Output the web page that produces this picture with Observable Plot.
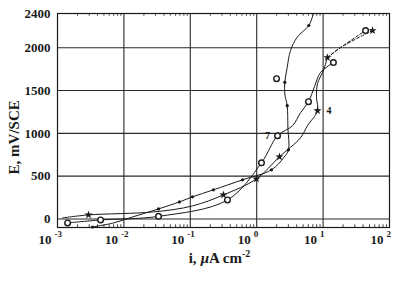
<!DOCTYPE html>
<html>
<head>
<meta charset="utf-8">
<script src="https://cdn.jsdelivr.net/npm/d3@7"></script>
<script src="https://cdn.jsdelivr.net/npm/@observablehq/plot@0.6"></script>
<style>
  html, body { margin: 0; padding: 0; background: #fff; }
  svg { display: block; }
</style>
</head>
<body>
<div id="chart"></div>
<script>
// ---------- data (current density i in µA/cm², potential E in mV/SCE) ----------
const xTicks = [1e-3, 1e-2, 1e-1, 1, 10, 100];
const xExponents = ["-3", "-2", "-1", "0", "1", "2"];
const yTicks = [0, 500, 1000, 1500, 2000, 2400];
const yGrid = [0, 500, 1000, 1500, 2000];
const xGrid = [1e-2, 1e-1, 1, 10];

// curve "7" (open circles)
const curve7 = [
  [1.42e-3, -47], [4.45e-3, -12], [0.0332, 30], [0.363, 222], [1.18, 656],
  [2.06, 972], [3.46, 1089], [4.57, 1241], [6.03, 1370], [7.42, 1546],
  [9.14, 1710], [14.3, 1827]
];
const curve7Markers = [
  [1.42e-3, -47], [4.45e-3, -12], [0.0332, 30], [0.363, 222], [1.18, 656],
  [2.06, 972], [6.03, 1370], [14.3, 1827]
];
// dashed branch ending with a circle
const branchCircle = [[11.6, 1885], [18.3, 2002], [43.6, 2201]];
const branchCircleMarkers = [[43.6, 2201]];
// isolated circle
const loneCircle = [[1.99, 1639]];

// curve "4" (stars)
const curve4 = [
  [1.19e-3, 12], [2.93e-3, 47], [0.0279, 82], [0.108, 152], [0.316, 281],
  [0.993, 468], [2.2, 726], [4.57, 948], [5.82, 1089], [8.24, 1265],
  [7.96, 1417], [8.24, 1581], [10.1, 1733], [11.6, 1885]
];
const curve4Dashed = [[11.6, 1885], [18.3, 2002], [55.5, 2201]];
const curve4Markers = [
  [2.93e-3, 47], [0.316, 281], [0.993, 468], [2.2, 726], [8.24, 1265],
  [11.6, 1885], [55.5, 2201]
];

// steep curve (small dots)
const curveSteep = [
  [3.37e-3, -94], [6.97e-3, -47], [0.0135, 23], [0.0332, 117], [0.0687, 199],
  [0.108, 258], [0.223, 340], [0.611, 457], [1.67, 574], [2.54, 714],
  [3.01, 808], [2.95, 1060], [2.88, 1323], [2.65, 1460], [2.65, 1596],
  [2.88, 1772], [3.23, 1967], [4.07, 2123], [6.09, 2260], [7.16, 2400]
];
const curveSteepMarkers = [
  [3.37e-3, -94], [0.0332, 117], [0.0687, 199], [0.108, 258], [0.223, 340],
  [0.611, 457], [1.67, 574], [3.01, 808], [2.88, 1323], [2.65, 1596], [6.09, 2260]
];

// curve labels
const curveLabels = [
  {i: 1.46, E: 972, text: "7"},
  {i: 12.3, E: 1265, text: "4"}
];

const xLabel = "i, µA cm-2";
const yLabel = "E, mV/SCE";

// ---------- chart ----------
const ink = "#1a1a1a";
const font = "'Liberation Serif', 'Times New Roman', serif";

// minor log ticks along top and bottom edges
const minor = [];
for (let e = -3; e < 2; e++) for (let k = 2; k <= 9; k++) minor.push(k * Math.pow(10, e));

const line = (data, opts = {}) => Plot.line(data, {
  x: d => d[0], y: d => d[1], curve: "catmull-rom",
  stroke: ink, strokeWidth: 1, ...opts
});

const chart = Plot.plot({
  width: 400,
  height: 288,
  marginLeft: 57,
  marginRight: 11,
  marginTop: 13,
  marginBottom: 61,
  style: {fontFamily: font, background: "#fff", color: ink},
  x: {type: "log", domain: [1e-3, 1e2], axis: null},
  y: {domain: [-100, 2400], axis: null},
  marks: [
    Plot.ruleY(yGrid, {stroke: "#2a2a2a", strokeWidth: 1.1}),
    Plot.ruleX(xGrid, {stroke: "#2a2a2a", strokeWidth: 1.1}),
    Plot.ruleX(minor, {y1: -100, y2: -68, stroke: ink, strokeWidth: 0.8}),
    Plot.ruleX(minor, {y1: 2400, y2: 2368, stroke: ink, strokeWidth: 0.8}),
    Plot.frame({stroke: ink, strokeWidth: 1.2}),

    line(curve7),
    line(branchCircle, {strokeDasharray: "3,2"}),
    line(curve4),
    line(curve4Dashed, {strokeDasharray: "3,2"}),
    line(curveSteep),

    Plot.dot(curve7Markers, {x: d => d[0], y: d => d[1], r: 2.8, stroke: ink, strokeWidth: 1.4, fill: "#fff"}),
    Plot.dot(branchCircleMarkers, {x: d => d[0], y: d => d[1], r: 2.8, stroke: ink, strokeWidth: 1.4, fill: "#fff"}),
    Plot.dot(loneCircle, {x: d => d[0], y: d => d[1], r: 2.8, stroke: ink, strokeWidth: 1.4, fill: "#fff"}),
    Plot.dot(curve4Markers, {x: d => d[0], y: d => d[1], symbol: "star", r: 2.6, fill: ink, stroke: "none"}),
    Plot.dot(curveSteepMarkers, {x: d => d[0], y: d => d[1], r: 1.6, fill: ink, stroke: "none"}),

    Plot.text(curveLabels, {x: "i", y: "E", text: "text", fontSize: 10, fontWeight: "bold", fill: ink}),

    // y tick labels
    Plot.text(yTicks, {frameAnchor: "left", y: d => d, text: d => String(d), textAnchor: "end", dx: -7, fontSize: 13, fontWeight: "bold", fill: ink}),
    // x tick labels: 10 with exponent
    Plot.text(xTicks, {frameAnchor: "bottom", x: d => d, text: () => "10", textAnchor: "end", dx: -6, dy: 16, fontSize: 13, fontWeight: "bold", fill: ink}),
    Plot.text(xTicks, {frameAnchor: "bottom", x: d => d, text: (d, i) => xExponents[i], textAnchor: "start", dx: -3, dy: 9, fontSize: 9, fontWeight: "bold", fill: ink}),
    // x-axis title
    Plot.text([xLabel], {frameAnchor: "bottom", dx: -4, dy: 35, fontSize: 15, fontWeight: "bold", fill: ink})
  ]
});

document.getElementById("chart").appendChild(chart);

// rich formatting for the x-axis title: italic µ and superscript -2
d3.select(chart).selectAll("text").each(function() {
  const t = d3.select(this);
  if (t.text() === xLabel) {
    t.text(null);
    t.append("tspan").text("i, ");
    t.append("tspan").attr("font-style", "italic").text("µ");
    t.append("tspan").text("A cm");
    t.append("tspan").attr("font-size", 10).attr("dy", "-0.55em").text("-2");
  }
});

// rotated y-axis title, centred on the y scale position of the label's midpoint
const yScale = chart.scale("y");
d3.select(chart).append("text")
  .attr("transform", `translate(14,${yScale.apply(948)}) rotate(-90)`)
  .attr("text-anchor", "middle")
  .attr("dominant-baseline", "central")
  .attr("font-family", font)
  .attr("font-size", 15)
  .attr("font-weight", "bold")
  .attr("fill", ink)
  .text(yLabel);
</script>
</body>
</html>
